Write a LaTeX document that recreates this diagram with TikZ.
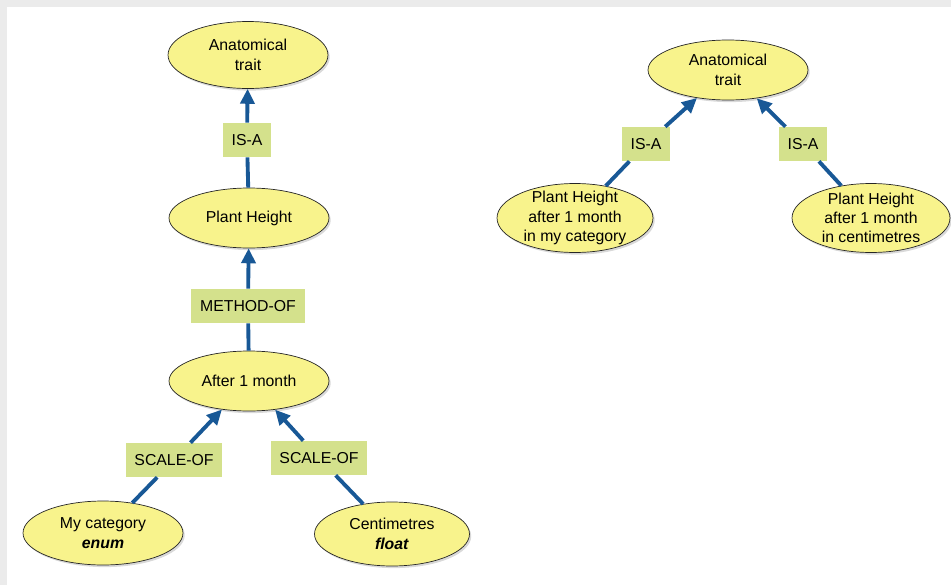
\documentclass[tikz,border=0pt]{standalone}
\usepackage{fontspec}
\setmainfont{Liberation Sans}
\usetikzlibrary{arrows.meta,shapes.geometric,shadows}
\definecolor{conceptyellow}{RGB}{248,243,140}
\definecolor{linkgreen}{RGB}{212,225,140}
\definecolor{linkblue}{RGB}{24,88,150}
\begin{document}
\begin{tikzpicture}[x=0.02cm,y=-0.02cm]
    \tikzstyle{every node}+=[font=\fontsize{9}{11}\selectfont, align=center]
    \tikzstyle{concept}=[ellipse, draw=black!85, fill=conceptyellow, inner sep=0pt,
        minimum width=3.2cm, minimum height=1.2cm,
        drop shadow={opacity=0.3, shadow xshift=1pt, shadow yshift=-1.2pt}]
    \tikzstyle{threeline}=[inner ysep=-2pt, minimum height=1.38cm]
    \tikzstyle{linker}=[rectangle, fill=linkgreen, inner xsep=5pt, minimum height=0.68cm]
    \tikzstyle{link}=[draw=linkblue, line width=2.2pt]
    \tikzstyle{linkto}=[link, -{Triangle[length=8.5pt,width=8pt]}]
    \useasboundingbox (0,0) rectangle (951,585);
    \fill [black!8] (0,0) rectangle (951,7);
    \fill [black!8] (0,0) rectangle (7,585);
    % left graph
    \node [concept, minimum height=1.34cm] (trait) at (248,55) {Anatomical\\trait};
    \node [concept] (height) at (249,218) {Plant Height};
    \node [concept] (month) at (249,381) {After 1 month};
    \node [concept, minimum height=1.28cm] (mycat) at (103,533) {My category\\\textbf{\textit{enum}}};
    \node [concept, minimum width=3.1cm, minimum height=1.28cm] (centi) at (392,534) {Centimetres\\\textbf{\textit{float}}};
    \node [linker] (isa) at (247,140) {IS-A};
    \node [linker] (method) at (248,306) {METHOD-OF};
    \node [linker] (scalea) at (174,460) {SCALE-OF};
    \node [linker] (scaleb) at (319,458) {SCALE-OF};
    \draw [link] (height) -- (isa);
    \draw [linkto] (isa) -- (trait);
    \draw [link] (month) -- (method);
    \draw [linkto] (method) -- (height);
    \draw [link] (mycat) -- (scalea);
    \draw [linkto] (scalea) -- (month);
    \draw [link] (centi) -- (scaleb);
    \draw [linkto] (scaleb) -- (month);
    % right graph
    \node [concept] (traitr) at (728,70) {Anatomical\\trait};
    \node [concept, threeline, minimum width=3.12cm] (heightcat) at (575,218) {Plant Height\\after 1 month\\in my category};
    \node [concept, threeline, minimum width=3.16cm] (heightcm) at (871,218) {Plant Height\\after 1 month\\in centimetres};
    \node [linker] (isab) at (646,144) {IS-A};
    \node [linker] (isac) at (803,144) {IS-A};
    \draw [link] (heightcat) -- (isab);
    \draw [linkto] (isab) -- (traitr);
    \draw [link] (heightcm) -- (isac);
    \draw [linkto] (isac) -- (traitr);
\end{tikzpicture}
\end{document}
